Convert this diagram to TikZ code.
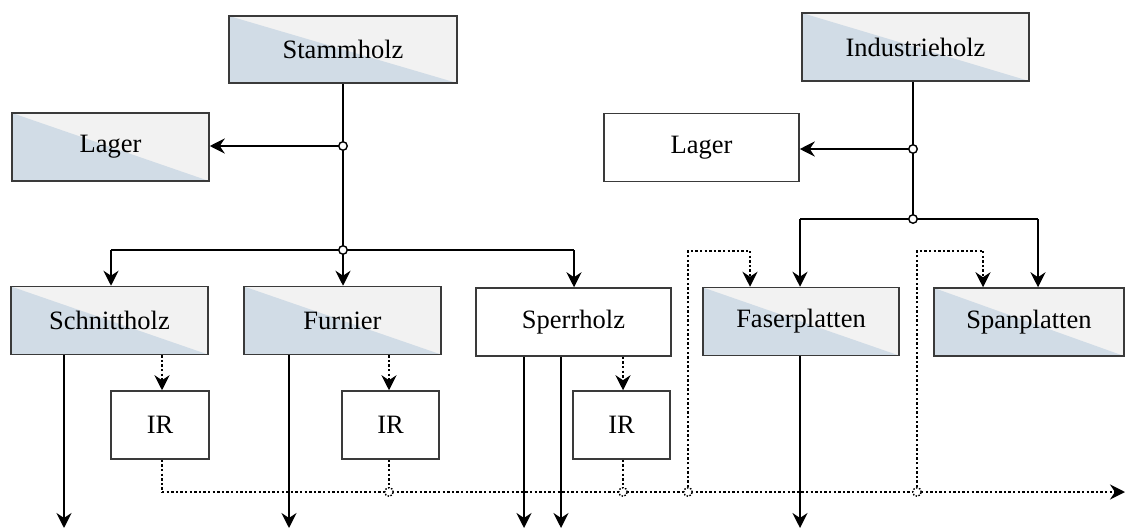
\documentclass[tikz,border=0pt]{standalone}
\usepackage{fontspec}
\setmainfont{Liberation Serif}
\usetikzlibrary{arrows.meta}
\definecolor{lb}{HTML}{D1DCE6}
\definecolor{lg}{HTML}{F2F2F2}
\definecolor{bd}{HTML}{3A3A3A}
\tikzset{
  box/.style={draw=bd, line width=1.5pt, fill=white, minimum height=68pt, inner sep=0pt,
    font=\fontsize{26.5}{30}\selectfont},
  sbox/.style={box, fill=lg, path picture={\fill[lb] (path picture bounding box.north west) -- (path picture bounding box.south east) -- (path picture bounding box.south west) -- cycle;}},
  ln/.style={line width=2.6pt, black},
  arr/.style={ln, -{Stealth[length=15pt,width=15pt,inset=5pt]}},
  dln/.style={line width=2.6pt, black, dash pattern=on 2.4pt off 2.2pt},
  darr/.style={dln, -{Stealth[length=15pt,width=15pt,inset=5pt]}},
  jn/.style={circle, draw=black, fill=white, line width=1.4pt, minimum size=8.5pt, inner sep=0pt},
  djn/.style={jn, dash pattern=on 1.5pt off 1.5pt},
}
\begin{document}
\begin{tikzpicture}[x=1pt,y=-1pt]
\useasboundingbox (0,0) rectangle (1126,530);
% boxes
\node[sbox, minimum width=228pt, minimum height=67pt] (stamm) at (343,49.5) {Stammholz};
\node[sbox, minimum width=197pt] (lagerL) at (110.5,147) {Lager};
\node[sbox, minimum width=227pt] (indu) at (915.5,47) {Industrieholz};
\node[box, minimum width=195pt] (lagerR) at (701.5,147.5) {Lager};
\node[sbox, minimum width=197pt] (schnitt) at (109.5,320.5) {Schnittholz};
\node[sbox, minimum width=197pt] (furnier) at (342.5,320.5) {Furnier};
\node[box, minimum width=195pt] (sperr) at (573.5,322) {Sperrholz};
\node[sbox, minimum width=196pt] (faser) at (801,321.5) {Faserplatten};
\node[sbox, minimum width=190pt] (span) at (1029,322) {Spanplatten};
\node[box, minimum width=98pt] (ir1) at (160,425) {IR};
\node[box, minimum width=97pt] (ir2) at (390.5,425) {IR};
\node[box, minimum width=97pt] (ir3) at (621.5,425) {IR};
% coordinates
\coordinate (j1) at (343,146);
\coordinate (j2) at (343,250);
\coordinate (k1) at (913,149);
\coordinate (k2) at (913,219);
\coordinate (b1) at (111,250);
\coordinate (b3) at (574,250);
\coordinate (c1) at (800,219);
\coordinate (c2) at (1038,219);
\coordinate (o1) at (64,528);
\coordinate (o2) at (289,528);
\coordinate (o3) at (524,528);
\coordinate (o4) at (561,528);
\coordinate (o5) at (800,528);
\coordinate (d1) at (162,0);
\coordinate (d2) at (389,0);
\coordinate (d3) at (623,0);
\coordinate (r0) at (162,492);
\coordinate (rE) at (1125,492);
\coordinate (p1) at (688,251);
\coordinate (p2) at (750,251);
\coordinate (q1) at (917,251);
\coordinate (q2) at (983,251);
% solid tree left
\draw[ln] (stamm.south -| j1) -- (j2);
\draw[arr] (j1) -- (j1 -| lagerL.east);
\draw[ln] (b1) -- (b3);
\draw[arr] (b1) -- (b1 |- schnitt.north);
\draw[arr] (j2) -- (j2 |- furnier.north);
\draw[arr] (b3) -- (b3 |- sperr.north);
% solid tree right
\draw[ln] (indu.south -| k1) -- (k2);
\draw[arr] (k1) -- (k1 -| lagerR.east);
\draw[ln] (c1) -- (c2);
\draw[arr] (c1) -- (c1 |- faser.north);
\draw[arr] (c2) -- (c2 |- span.north);
% outputs
\draw[arr] (schnitt.south -| o1) -- (o1);
\draw[arr] (furnier.south -| o2) -- (o2);
\draw[arr] (sperr.south -| o3) -- (o3);
\draw[arr] (sperr.south -| o4) -- (o4);
\draw[arr] (faser.south -| o5) -- (o5);
% dotted to IR
\draw[darr] (schnitt.south -| d1) -- (ir1.north -| d1);
\draw[darr] (furnier.south -| d2) -- (ir2.north -| d2);
\draw[darr] (sperr.south -| d3) -- (ir3.north -| d3);
% dotted return line
\draw[dln] (ir1.south -| r0) -- (r0);
\draw[darr] (r0) -- (rE);
\draw[dln] (ir2.south -| d2) -- (d2 |- r0);
\draw[dln] (ir3.south -| d3) -- (d3 |- r0);
\draw[dln] (p1 |- r0) -- (p1) -- (p2);
\draw[darr] (p2) -- (p2 |- faser.north);
\draw[dln] (q1 |- r0) -- (q1) -- (q2);
\draw[darr] (q2) -- (q2 |- span.north);
% junctions
\node[jn] (J1) at (j1) {};
\node[jn] (J2) at (j2) {};
\node[jn] (K1) at (k1) {};
\node[jn] (K2) at (k2) {};
\node[djn] (R1) at (d2 |- r0) {};
\node[djn] (R2) at (d3 |- r0) {};
\node[djn] (R3) at (p1 |- r0) {};
\node[djn] (R4) at (q1 |- r0) {};
\end{tikzpicture}
\end{document}
